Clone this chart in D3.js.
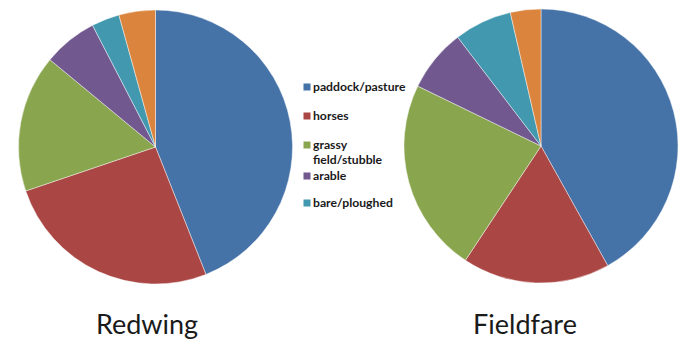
<!DOCTYPE html>
<html>
<head>
<meta charset="utf-8">
<script src="https://cdn.jsdelivr.net/npm/d3@7"></script>
<style>
  html, body { margin: 0; padding: 0; background: #fff; }
  svg { display: block; }
</style>
</head>
<body>
<svg id="chart" width="700" height="350"></svg>
<script>
// Habitat categories, in slice order (clockwise from 12 o'clock)
const categories = ["paddock/pasture", "horses", "grassy field/stubble", "arable", "bare/ploughed", "other"];
// Legend shows only the first five categories, with wrapped lines
const legendLabels = [["paddock/pasture"], ["horses"], ["grassy", "field/stubble"], ["arable"], ["bare/ploughed"]];
// Share of observations (%) per habitat
const redwingValues = [44.0, 25.8, 16.2, 6.4, 3.3, 4.3];
const fieldfareValues = [41.9, 17.4, 22.9, 7.4, 6.8, 3.6];
const pieTitles = ["Redwing", "Fieldfare"];

const colours = ["#4572A7", "#AA4643", "#89A54E", "#71588F", "#4198AF", "#DB843D"];

const svg = d3.select("#chart");
const color = d3.scaleOrdinal().domain(categories).range(colours);

const pie = d3.pie().sort(null).value(d => d.value);
const radius = 137;
const arc = d3.arc().innerRadius(0).outerRadius(radius);

const pies = [
  { title: pieTitles[0], values: redwingValues, cx: 155.5, cy: 147, tx: 147 },
  { title: pieTitles[1], values: fieldfareValues, cx: 541, cy: 146, tx: 525 }
];

pies.forEach(p => {
  const data = categories.map((c, i) => ({ category: c, value: p.values[i] }));
  const g = svg.append("g").attr("transform", `translate(${p.cx},${p.cy})`);
  g.selectAll("path")
    .data(pie(data))
    .join("path")
    .attr("d", arc)
    .attr("fill", d => color(d.data.category))
    .attr("stroke", "rgba(255,255,255,0.55)")
    .attr("stroke-width", 0.8);

  svg.append("text")
    .attr("x", p.tx)
    .attr("y", 334)
    .attr("text-anchor", "middle")
    .attr("font-family", "Lato, 'Open Sans', sans-serif")
    .attr("font-size", 27)
    .attr("fill", "#1a1a1a")
    .text(p.title);
});

// Legend
const legendY = [87, 116, 145, 176, 203];
const legend = svg.append("g").attr("font-family", "Lato, 'Open Sans', sans-serif")
  .attr("font-size", 12.2).attr("font-weight", "bold").attr("fill", "#1a1a1a");

legendLabels.forEach((lines, i) => {
  const y = legendY[i];
  legend.append("rect")
    .attr("x", 303.5).attr("y", y - 3.5)
    .attr("width", 7).attr("height", 7)
    .attr("fill", colours[i]);
  const t = legend.append("text").attr("x", 313).attr("y", y + 4.3);
  lines.forEach((line, j) => {
    t.append("tspan").attr("x", 313).attr("dy", j === 0 ? 0 : 15).text(line);
  });
});
</script>
</body>
</html>
